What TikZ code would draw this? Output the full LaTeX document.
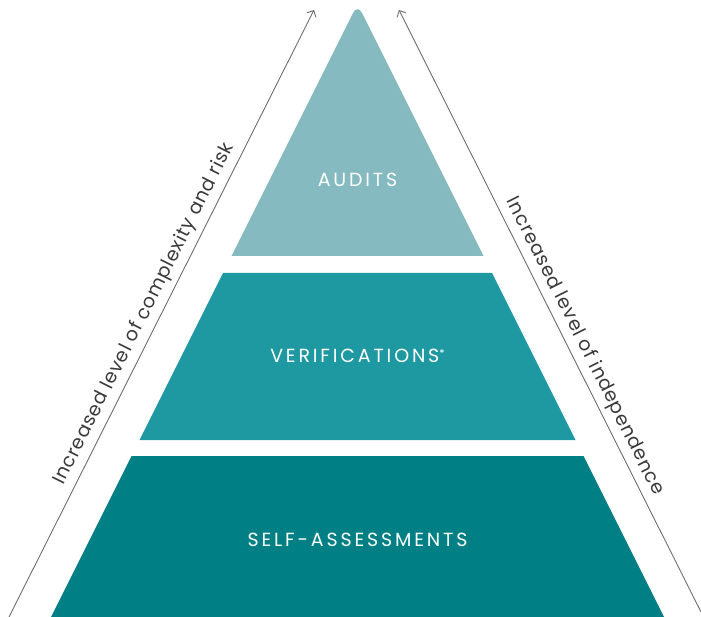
\documentclass[tikz,border=0pt]{standalone}
\usepackage{fontspec}
\setmainfont{Poppins}
\newfontfamily\capsfont[LetterSpace=15]{Poppins}
\newfontfamily\sidefont[LetterSpace=4]{Poppins}
\usetikzlibrary{arrows.meta}
\definecolor{tierA}{HTML}{84BAC0}
\definecolor{tierB}{HTML}{1E99A2}
\definecolor{tierC}{HTML}{007F84}
\definecolor{axisgray}{HTML}{6E6E6E}
\definecolor{sidetext}{HTML}{3A3A3A}
\begin{document}
\begin{tikzpicture}[x=1pt,y=-1pt,
  axisline/.style={draw=axisgray, line width=0.9pt, -{Straight Barb[length=5pt,width=10pt]}},
  tierlabel/.style={text=white, inner sep=0pt, font=\capsfont\fontsize{19}{22}\selectfont},
  sidelabel/.style={text=sidetext, inner sep=5pt, font=\sidefont\fontsize{19}{22}\selectfont}]
\useasboundingbox (0,0) rectangle (701,617);
% pyramid tiers
\fill[tierA] (231.5,256) [rounded corners=10pt] -- (357.5,4) [sharp corners] -- (483.5,256) -- cycle;
\fill[tierB] (223,273) -- (492,273) -- (575.5,440) -- (139.5,440) -- cycle;
\fill[tierC] (131.5,456) -- (583.5,456) -- (664,617) -- (51,617) -- cycle;
% tier labels
\node[tierlabel] (audits) at (357.5,180) {AUDITS};
\node[tierlabel] (verif) at (357.5,356) {VERIFICATIONS\raisebox{5.5pt}{\fontsize{11}{11}\selectfont*}};
\node[tierlabel] (selfa) at (357.5,539.5) {SELF-ASSESSMENTS};
% axes
\coordinate (lbot) at (8,619);
\coordinate (ltop) at (314,10);
\coordinate (rbot) at (701,612);
\coordinate (rtop) at (399,10);
\draw[axisline] (lbot) -- node[sidelabel, sloped, pos=0.49, above] (lefttext) {Increased level of complexity and risk} (ltop);
\draw[axisline] (rbot) -- node[sidelabel, sloped, pos=0.43, above] (righttext) {Increased level of independence} (rtop);
\end{tikzpicture}
\end{document}
